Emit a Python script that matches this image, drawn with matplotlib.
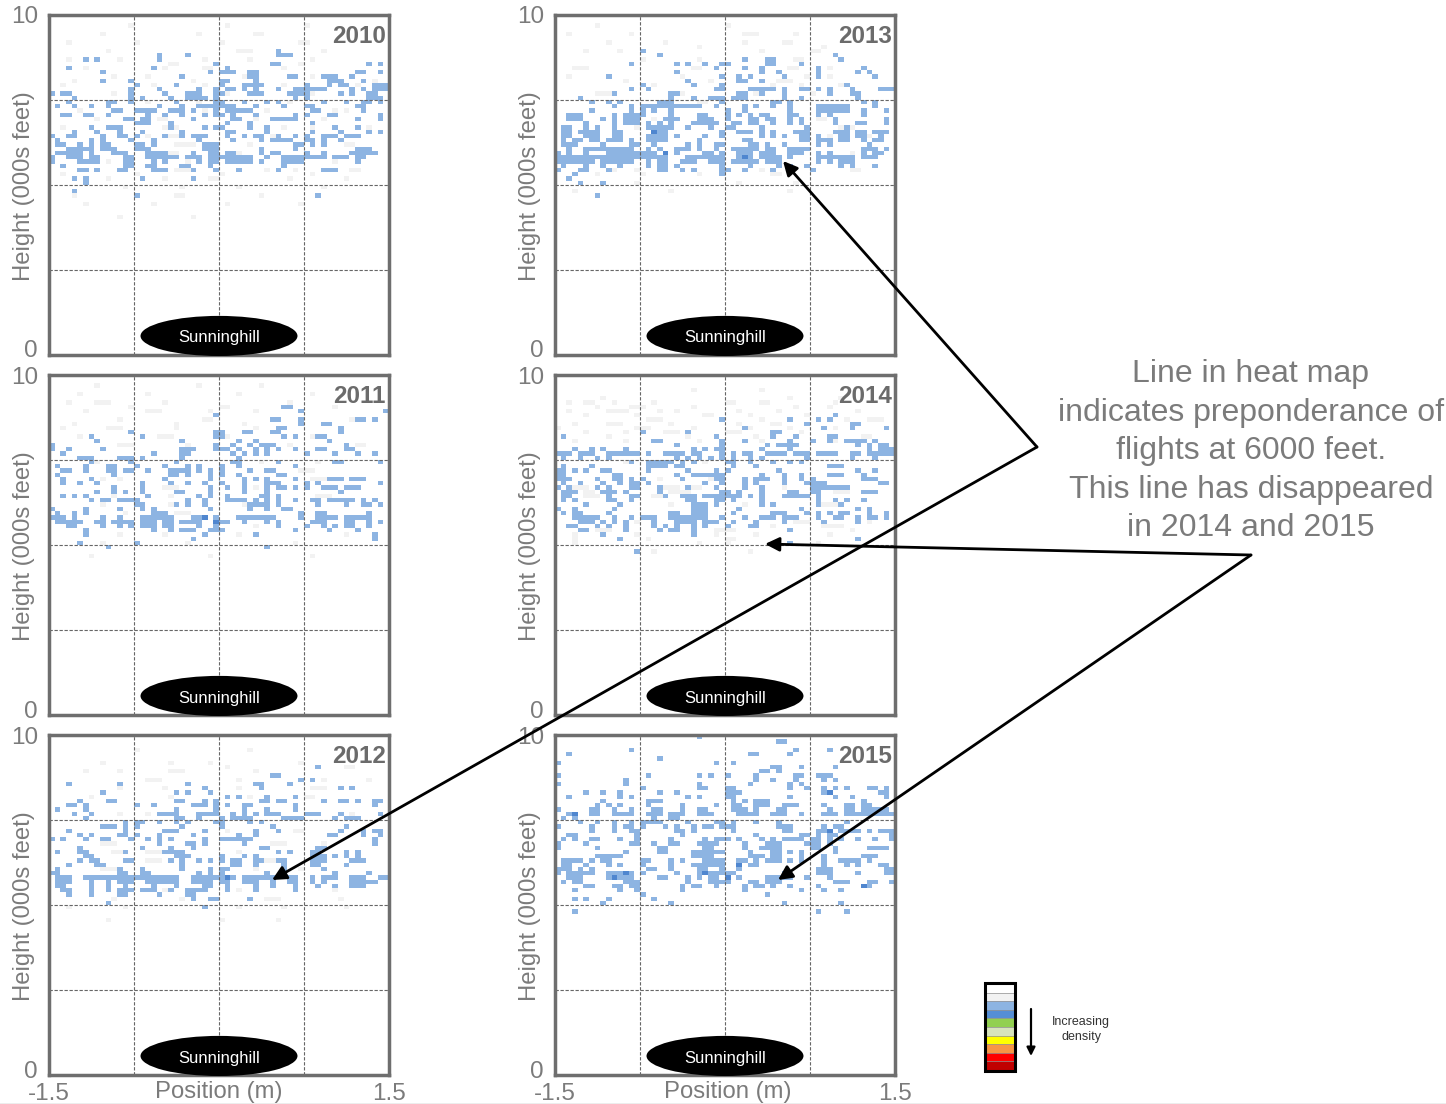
import numpy as np
import matplotlib
matplotlib.use("Agg")
import matplotlib.pyplot as plt
from matplotlib.colors import ListedColormap, BoundaryNorm
from matplotlib.patches import Ellipse, Rectangle
from matplotlib.transforms import ScaledTranslation

plt.rcParams['font.family'] = ['Liberation Sans', 'DejaVu Sans']

YEARS = [2010, 2011, 2012, 2013, 2014, 2015]
X_TICKS = [-1.5, 1.5]
Y_TICKS = [0, 10]
ANNOTATION = ["Line in heat map", "indicates preponderance of", "flights at 6000 feet.",
              "This line has disappeared", "in 2014 and 2015"]
LEGEND_COLORS = ['#ffffff', '#f2f2f2', '#8db4e2', '#558ed5', '#92d050', '#d7e4bc',
                 '#ffff00', '#f79646', '#ff0000', '#c00000']

# Heat-map cells: "row:columns" (row 0 = top of 80, column 0 = left of 60)
BLUE_2010 = ["8:40", "9:19 24 40 41-42", "10:6 8 19", "11:29 56 58 39-40", "12:3 18 31",
 "13:9 28 30 31-32 35-36 54-55 58", "14:23 42-43 35-36 48-50 53", "15:9 14 30-31 36 49-50 51 55",
 "16:15 22 30 34-37 45 49 51-52 57-59", "17:14 29 36 40 45 47-48 57-59 19 26 31-32 34 43-44 46-48 53 55",
 "18:0 2-3 14 20 24-26 29-30 35-37 42-44 45 51 53 56-57", "19:4 14 16 21 24-27 29 43 45 56-58",
 "20:3 10-11 14 22 29-30 34 38 40 48 52 55-56 58", "21:4 7 10 26-28 29-30 31-32 36 45 54 1 19 23 27 41 46 55",
 "22:11-12 15-18 21-23 25 29 31-33 34-35 46-47 55", "23:2-3 6 7 10 17 20 23 27 29-30 32 36 43 45 49-50 58",
 "24:13-14 16-17 25 32-33 39-42 43 54 58", "25:15-17 21 31 35 46", "26:7 10-12 21 27 29-30 35 38 50 54",
 "27:4 8 12 16 23 31-32 38 46 51 56 58", "28:0 3-4 9 12 15 20 23 25 31 45 13 25-27 34 36-37 40 43 48-50 52-54",
 "29:1 7 9 14 18 26 32 37 39-41 42 45-46 48 51", "30:1-2 5 7 9-10 15-16 18 27-29 43-44 46 48",
 "31:3-4 5-7 9-11 15-17 27-29 37 43 54-56", "32:1-5 7 11-13 17-18 19-20 25 28-29 31-32 37 39-40 45 48 53-57",
 "33:0 3-5 7-8 13-14 17-22 24-25 26 28-35 38 41-46 47-48 50 51-52 54-55",
 "34:0 5-6 7-8 13-14 18 20 26 28-29 31-35 37 41-44 54", "35:2 13-14 17-18 23-24 28 41",
 "36:6 8 12-13 18-20 25 29 40 48-49 5 33 50", "38:4 6 16 25", "39:6", "41:4", "42:15 47"]
BLUE_2011 = ["7:41-42", "8:44 59", "9:29", "10:39-40 44 54-55 57", "11:44 48-49", "12:40-41 51",
 "13:14 29-30 39-40 34-35 51", "14:16 29 30 43 47-48 7 41", "15:8 23 33 36 49", "16:0 29 32 35 37 38-39 52",
 "17:9 29-30 31 33 36 40 47 52-53 0 3 23-25 38 43 47-48 53", "18:2 18 23-24 32 34 36 38 45 50 54 57", "19:5-7 12-14 16 23 33",
 "20:7 14 22 32-33 40 50-51 58", "21:1 6 10-11 15 20 24 26 30 33 43", "22:2-3 6 10-11 13-14 17 21-23 24 26 28 30 35 38-39",
 "23:1 11 21-22 24 28 30 33 40-41", "24:2 7 20 28 34 36 38 43 49-51 53-55", "25:2 8 16 30 45 5 21 24 27 34 38-40 47 58",
 "26:11 16 28 31 34 38 40-41 43 45 48-50 52-54", "27:8 11 13 16 22-23 28 34 38 51", "28:2 4 6 17 26 28 31 37-38 40",
 "29:7 9 14 27 34 36 40 43 46-47 49-50 51-53 55 57 10 12-14 24 31-33 38 15", "30:15-16 22 24 27 38 35-37 40 56 47 52 55 58",
 "31:0 6 12 16 18 28 35 38 41-42", "32:1 4 6 18-20 44 47 48 56",
 "33:0-2 4 9 12 16-21 25-27 29 33-39 44 47 48-50 52-53 54-56",
 "34:1-2 3-5 8-9 11-12 13-14 16-18 20-21 23-25 26 29-31 34 38 40 46-48 52-53 56 58",
 "35:3-4 9 12 14 16-18 20-21 26 29 40 45 48 50 52-53 56", "36:6 18 21 23-25 28-30 43 49 54", "37:6 27 36 57",
 "38:25 57", "39:5 15", "40:38 10"]
BLUE_2012 = ["7:47", "9:39-40", "10:44 46", "11:12 37 3 24 36 42", "12:27 37 51 53", "13:9 22 24 28", "14:31 33 38 43",
 "15:5 11 22 37-38 48 52 10-11 23 27 40-41 51-52 54 57 58 29", "16:3-4 6 15 18 25-27 29 31 34-35 43 57",
 "17:1 6 22 29 34 38 43", "18:20-22 26-28 29 32 34 38-40 45-46 51 58 4 7 19-20 36 39 47",
 "19:6 22 23 26 30 32 33-34 35 41-44 50 52-54", "20:13 15 16 19 22 24 29-30 35 37", "21:9-11 13 15 23 30 39 52",
 "22:3 13 20-22 27 36 40 51 55 57 58", "23:5 7 12 13 15 19 25 33 36 49-50 55 58", "24:0 10 14 27 31-33 34 57 2 6 9 17 19 21 30 34-35",
 "25:19 24 25 27 34 57", "26:5 16 21 25 37-38 47-48", "27:1 5-6 13 20-21 22-23 40 42 46-47 52 54",
 "28:6-7 22-24 30 34 36 46-48 50 52 54", "29:7 13 21 23 33 36-37 40 48 5 8 13-14 26 28 30 32 41 46-48 53-55",
 "30:3 8-9 23 32 33 36 41 46-47 52", "31:1 12 16 28 23 30 31 41 48", "32:0-1 12-13 16-17 26 28 30 38 50 56",
 "33:1-3 6-8 9-10 11-14 15-19 20-21 22 25-27 28-29 30-32 34-36 37-39 42-43 46 48-50 53-55 58-59",
 "34:1-3 7 10 12-14 17-19 20-21 22 25-27 28 30 31 34-36 39 42-43 46 48 53-55 56-57",
 "35:1 2 7 10 13 18 22 27 28 31 36 39 43 47 50 53-55", "36:2-3 7 10 12-14 16-18 21 24-26 27 31 36 43",
 "37:3 7 13 19 24 12 25", "38:25 28 29 35", "39:10", "40:27"]
BLUE_2013 = ["8:15", "9:18 49", "10:33 37-38 50", "11:13 21 26 29 37-38 23 29-30 43", "12:28 33 36 46 54", "13:21 36 39 46 53 55",
 "14:9 29 32 34 40 46 56", "15:23 32-33 36", "16:15 24 29 51", "17:13 16 28-29 36-37 40 43 52 34-38 44 46 48 52 57-59",
 "18:10 20-21 32-33 36 40 48 52-53", "19:4 20 24 27-28 29 31-33 40 43 53", "20:11 29 54 6 9 18-20 41 38-39 56",
 "21:10 13 15-16 17-24 25 28 33 35 38 41 46-51 56", "22:6 13 15 17 20 30 33 41 46-51 54 58",
 "23:2-4 10 12-14 15 20 25 26 30 32 34 36-37 41 42 46 48 54", "24:2-3 4 8 10 12-14 19-21 25-27 30 34-35 37-38 41 43 49 58",
 "25:5 10 12-14 16 18 20 24-28 31 32 34 35 38 41 43 49 53-54 58", "26:1-2 5 7 10 16-19 20 23 27 30-31 36 44 51",
 "27:1-2 4 5-6 7 10-11 17-19 29 32-34 36 38 42-44 49-51 53-54 56-58", "28:1-2 5-6 7 10-11 16-19 21 26 29 36 38 40 43-44 46 50-51 53-54 57",
 "29:1 3-4 6-7 9-11 16-19 33 46-48 50 54 56-57 3 7 10-11 13 19 25 34 43-44 50-51", "30:1 2-3 8 13-14 17 23 25 28-29 34-35 37 40 46 48 55",
 "31:2 5-7 8-9 10-13 16 18 21-23 25 28 31-34 35 37 38 41-44 54-56 58",
 "32:0 2 5 9-14 15-17 21 26-27 29 32-34 36-38 41-43 46 48 54 56-57",
 "33:0-6 7-14 15-17 18-19 23-28 29 32-34 36-39 41 46-52 54-56", "34:0-5 6 8-13 16 18-19 22-24 27-28 29 31-35 37-39 46 48 50-52",
 "35:1 5 8 11 16 18-19 21 29 34 39 41 44 50 52 56", "36:0 4-5 9 18-19 24 29 45 5 22 29-30 33 38", "37:3 29", "38:2", "39:4 8", "42:7"]
BLUE_2014 = ["9:49", "10:29 41 46 48", "11:44 52-53", "12:33 47 52 58", "13:15 23 38-39", "14:1 28 38 42 48-49", "15:33 45 51 17-18 29 41 48 52-54 56",
 "16:21 29 37 39-42 53 55 57-58", "17:3 6 8 12 24 26 28-29 36 41 55 57-59",
 "18:0-2 4-5 10 12-14 19-20 22 25 29 31 34 42 43-44 46-49 52 55 57-59 1-2 4 6 9 11 16 21 24-25 33 37-40 46 53 56",
 "19:1 4 7 9 21 23 25 27 29 31 34 36 44 52 56", "20:13 16-18 19-20 22 24 30-31 34 38 41 43",
 "21:1 6 16-18 19 21 22 31 35 48-50", "22:0-1 3 5 8-9 16 23 28 30 39 53 56",
 "23:0-1 10-11 21 24-27 28-29 36 40 43 48-50 54", "24:0-2 7 10-11 13 15 22 28-29 33 35-37 40 43 45 54-56",
 "25:1 4 8 11 13-14 16 26 29 33 35 40 44-46 47 57-58", "26:0 2 7 9 13-14 18 23 28 33 36 45 46-47 48-51",
 "27:2-3 9 12 18 30 32 36 45 46 55-56 1-3 8 10 29 36 41-42 54", "28:2 19 30 32 36 40-41 46 1 9 13-14 22-24 26-29 31 34 42-44",
 "29:3 10 13 24 28 29 31 36 1 9 23 31 46 49 51 54", "30:5 11 24-26 28 36 38 46 50", "31:0 3 10 24-26 32 43 53 55",
 "32:1 3-4 9 20-21 24-26 31 38-40 44 46 48 50-51 55 58",
 "33:3-7 10 13 15-17 20-23 24-26 29 33 36-38 40-42 46 49-50 53 55 56 58",
 "34:4-6 8 10 12 17 21-22 23-24 26-28 31 35 40 47 53", "35:2 3 7 9 12 17 19 21 24 26 30 34-35",
 "36:5 12 20 21 24 41 4 18", "37:8 24", "38:11 53", "39:41", "41:14"]
BLUE_2015 = ["0:25", "1:39-40", "3:13 42 48", "4:2 34-35 41", "5:18", "6:0 28 31", "7:38-39 43 49", "8:36-37 39",
 "9:0 16 27 30 43 46-48 25 35 42", "10:12 35 38 42 47 49", "11:0 12 25 34 41 43", "12:15 25 30-31 41 49 51 55-56 26 44 47 55 58",
 "13:5 8 11 18 21 30-32 47-48 57-58", "14:2 11 13 23 25 30-31 41 49 52 58", "15:8 16-18 31 33 35-37 54",
 "16:7 9 11 16 22 28 31-32 35-37 40-42 47 51-52 54-55", "17:0 6-7 10 13 17-18 22 25-26 31-33 35 39-40 48 51-52 54-58",
 "18:2 10 11-12 17-18 25-26 32-33 35 38-40 43 47-49 51-52 54-59 2-3 6-7 12-13 16-17 20-22 25-27 32 34 47 48-49 53-55 56",
 "19:1 3 17 20-21", "20:4 7 10 13 15-17 18 23 28-29 31 35 39 51", "21:0 6 10 12 13 15 19 21 24 26-27 29-30 31 39-41 47 49-50",
 "22:6 10 13-14 21-22 24 31 40-41 46-47 50-53 55 57-59", "23:2-3 14 22 35 43-44 46 48-49 59",
 "24:7 20 28-29 38 43 46 48 50 56 59 1 3 6 11 14 26 30 32 36 40-42 45-46 53", "25:0 5 13-14 17 20-21 25-27 28 33 37-39 44 45-46 48",
 "26:0 7 18-19 26-27 33 36-39 45-46 49 55-58", "27:12 18-19 24-27 28-29 34 38-39 41 43 49",
 "28:7-11 24-25 26-27 34-36 38-39 43 47 54-56", "29:3-4 6 9 16 20 22 26-29 33 35 38-39 41 43 47 50 53 1-2 8-9 15 26 32 37 47 51-53 55",
 "30:1-2 5 9 11 15 20 24-29 32 34-35 47 51 53 57-58", "31:0-2 4 6 16-17 20 25-26 29 32 46-48 58-59",
 "32:0 9-11 21 25-26 29 30-31 46-48 53 58-59 2-6 12-13 15 25-28 30-31 40 46-48 59",
 "33:2-4 9-13 18-19 23 25 27-28 30 32 37-41 44 48", "34:1 3-4 12-14 23 27-29 30 34-35 37-39 49-51 55-56 59",
 "35:5 5-6 10-11 13-14 22 24-25 28 33 35-36 38 41 46 54-55", "36:3 11 14 22 33 43 47 50", "37:15 37", "38:3 5 9 17", "39:20 8 40 50", "41:3 46 51"]

DARK_2013 = ["27:17", "33:33", "32:19"]
DARK_2012 = ["33:31"]
DARK_2011 = ["33:27", "34:29"]
DARK_2010 = []
DARK_2014 = []
DARK_2015 = ["18:3", "30:32", "22:48", "33:10 30", "32:12 26", "35:54", "13:48"]

FAINT_2010 = ["2:14 31 45", "4:9 26 36-37", "6:3 15 30 44-45", "8:10 33-35 48", "10:3 12 27 35 46", "11:21-22 44", "12:6 20 27-28 41", "14:11 17 34-35 46", "15:4 25 57", "16:2 18 27 41 54",
 "18:11 31 46", "20:17 26 42", "22:5 27 38 50 52", "24:8 19-20 36 48", "26:2 20-22 41 46 56", "28:17 21-22 39",
 "30:22-25 35 52-53", "32:21-22 33", "34:10 24 50", "36:22-24 38 43 53-54", "37:2 15 30 46", "38:10 20 28-29 42 52", "40:13 23 33 48", "42:4 22-23 37", "44:6 18 31 44", "47:12 25"]
FAINT_2011 = ["2:8 26 37", "4:5 17 33 46", "6:3 8-10 20 42", "7:14 30-31 50", "8:6 17-19 28 36", "10:12 27-28 39 53", "11:4 22 34", "12:2 10-12 22 36", "14:5 19-21 31 46", "16:12-14 24 42 54-55",
 "20:8 37 47", "22:44-46", "24:9 12 46-48", "26:20-22 36", "28:11 21 47-49", "30:9 21 34 52", "32:13 22-24", "35:36 45", "37:12 20 33 52", "39:9 24 43", "42:7 28 46"]
FAINT_2012 = ["3:15 35", "6:9 21 28 44", "7:31 52-53", "8:6 12 21-23 36", "10:17-19 33 48 56", "12:12 20 33 46-48", "14:7 21 35 45-46", "18:12 17 53", "22:31 43-44",
 "25:9-11 39-41 48", "27:11-13 17-19 33", "29:17-19 38-39", "31:9-11 36 44", "36:20 33 50", "38:11 23 38-40 51", "40:3 13 33 41 52", "43:10 30 40"]
FAINT_2013 = ["2:7 30", "4:2 13 33-35 42", "6:9 19 33 40-41", "7:25 47", "8:5 11 36 45-46", "10:15 25 42-43", "12:3-5 24-25 41-42 48", "14:2 22 44 48", "15:12 27 39-41", "16:17 38 43 50-51",
 "18:7-9 22 35 45", "20:25-26", "24:17 30 46-47", "26:14 50-52", "28:48 55", "32:52", "36:10 14 36 41 52-53", "37:7 15 25 38-39", "39:14 32 42", "41:3 20 41"]
FAINT_2014 = ["3:24 36", "5:8 41 50", "6:2 5-6 10 17 30-31 36-37 49", "7:7 13-15 24 42 48", "8:2 9-12 18 21 32 39 53", "9:5 14 26-27 34 44", "10:16-18 36 51 55-57", "11:3 9-11 20 32 38-39",
 "12:0 14-16 24 34 41 49", "13:5 12 19-21 30-32 43", "14:9 23 35 54-55", "15:3 12 25 36 49", "20:12 26", "24:18 27", "26:3-5 19-21 24-25 40", "27:5-6 20-23 49-51",
 "28:5-7 17-19 36", "30:20 33 47-49", "34:14 42-44 55", "35:38 47-50", "36:7-9 28-31 52", "37:3 14 28 35 48", "38:3 16 30-31", "39:3 25 30 46", "41:17 34"]
FAINT_2015 = []

CMAP = ListedColormap(['#ffffff', '#f2f2f2', '#8db4e2', '#4f86cf'])
NORM = BoundaryNorm([-0.5, 0.5, 1.5, 2.5, 3.5], CMAP.N)


def fill(grid, entries, level):
    for entry in entries:
        row, cols = entry.split(":")
        for part in cols.split():
            a, _, b = part.partition("-")
            grid[int(row), int(a):int(b or a) + 1] = level


def grid_for(faint, blue, dark):
    grid = np.zeros((80, 60), dtype=int)
    fill(grid, faint, 1)
    fill(grid, blue, 2)
    fill(grid, dark, 3)
    return grid


GRIDS = {
    2010: grid_for(FAINT_2010, BLUE_2010, DARK_2010),
    2011: grid_for(FAINT_2011, BLUE_2011, DARK_2011),
    2012: grid_for(FAINT_2012, BLUE_2012, DARK_2012),
    2013: grid_for(FAINT_2013, BLUE_2013, DARK_2013),
    2014: grid_for(FAINT_2014, BLUE_2014, DARK_2014),
    2015: grid_for(FAINT_2015, BLUE_2015, DARK_2015),
}

W, H = 1446, 1104
GREY = '#7b7b7b'
FRAME = '#6e6e6e'
fig = plt.figure(figsize=(W / 100, H / 100), dpi=100, facecolor='white')

LEFTS = {2010: 49, 2011: 49, 2012: 49, 2013: 555, 2014: 555, 2015: 555}
TOPS = {2010: 15, 2011: 375, 2012: 735, 2013: 15, 2014: 375, 2015: 735}
PW, PH = 340, 340

x_edges = np.linspace(-1.5, 1.5, 61)
y_edges = np.linspace(10, 0, 81)

for year in YEARS:
    l, t = LEFTS[year], TOPS[year]
    ax = fig.add_axes([l / W, 1 - (t + PH) / H, PW / W, PH / H])
    ax.pcolormesh(x_edges, y_edges, GRIDS[year], cmap=CMAP, norm=NORM, zorder=1)
    ax.set_xlim(-1.5, 1.5)
    ax.set_ylim(0, 10)
    for v in (-0.75, 0, 0.75):
        ax.axvline(v, color='#666666', lw=0.8, ls=(0, (3, 1.5)), zorder=2)
    for v in (2.5, 5, 7.5):
        ax.axhline(v, color='#666666', lw=0.8, ls=(0, (3, 1.5)), zorder=2)
    for s in ax.spines.values():
        s.set_linewidth(2.5)
        s.set_color(FRAME)
        s.set_zorder(3)
    ax.set_yticks(Y_TICKS)
    ax.set_yticklabels(['0', '10'], fontsize=17.5, color=GREY)
    ax.tick_params(axis='y', length=0, pad=8)
    zero = ax.get_yticklabels()[0]
    zero.set_transform(zero.get_transform() + ScaledTranslation(0, 6 / 100, fig.dpi_scale_trans))
    ax.set_ylabel('Height (000s feet)', fontsize=17.2, color=GREY, va='center')
    ax.yaxis.set_label_coords(-0.073, 0.497)
    if year in (2012, 2015):
        ax.set_xticks(X_TICKS)
        ax.set_xticklabels(['-1.5', '1.5'], fontsize=17.5, color=GREY)
        ax.tick_params(axis='x', length=0, pad=6)
        ax.set_xlabel('Position (m)', fontsize=17.2, color=GREY, va='center')
        ax.xaxis.set_label_coords(0.5 if year == 2012 else 0.509, -0.05)
    else:
        ax.set_xticks([])
    ax.text(0.99, 0.9365, str(year), transform=ax.transAxes, ha='right', va='center',
            fontsize=17.5, fontweight='bold', color='#6b6b6b', zorder=5)
    ax.add_patch(Ellipse((0, 0.56), 1.385, 1.18, facecolor='black', edgecolor='none',
                         zorder=6, clip_on=False))
    ax.text(0, 0.50, 'Sunninghill', ha='center', va='center', fontsize=12, color='white', zorder=7)

# overlay in pixel units for the call-outs and the legend
ov = fig.add_axes([0, 0, 1, 1], facecolor='none')
ov.set_xlim(0, W)
ov.set_ylim(H, 0)
ov.axis('off')


def arrow(tail, head):
    ov.annotate('', xy=head, xytext=tail,
                arrowprops=dict(arrowstyle='-|>,head_length=0.85,head_width=0.42', color='black', lw=2,
                                shrinkA=0, shrinkB=0), zorder=10)


arrow((1037, 447), (783, 161))
arrow((1037, 447), (272, 880))
arrow((1251, 555), (765, 544))
arrow((1251, 555), (778, 880))

for i, line in enumerate(ANNOTATION):
    ov.text(1251, 374 + i * 38.6, line, ha='center', va='center', fontsize=23, color=GREY)

for i, c in enumerate(LEGEND_COLORS):
    ov.add_patch(Rectangle((986, 984 + i * 8.6), 29, 8.6, facecolor=c, edgecolor='#8a8a8a', lw=0.4))
ov.add_patch(Rectangle((985, 983), 30, 88, fill=False, edgecolor='black', lw=2.2))
ov.annotate('', xy=(1031, 1056), xytext=(1031, 1009),
            arrowprops=dict(arrowstyle='-|>,head_length=0.5,head_width=0.25', color='black', lw=1.6,
                            shrinkA=0, shrinkB=0))
ov.text(1081, 1029.5, 'Increasing\ndensity', ha='center', va='center', fontsize=9, color='#333333', linespacing=1.25)
ov.plot([0, W], [1103.5, 1103.5], color='#a6a6a6', lw=1)

fig.savefig('out.png', dpi=100)
